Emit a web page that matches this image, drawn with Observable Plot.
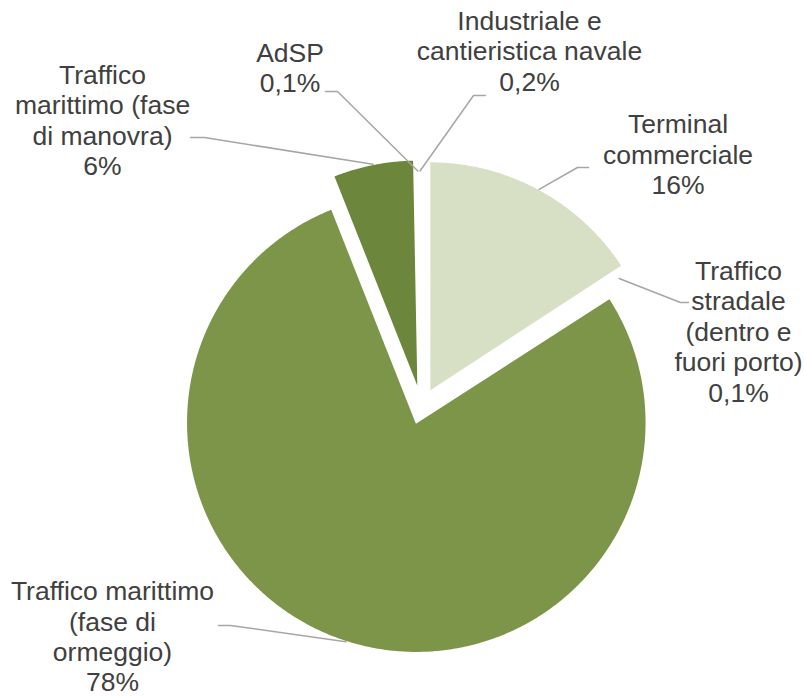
<!DOCTYPE html>
<html><head><meta charset="utf-8">
<script src="https://cdn.jsdelivr.net/npm/d3@7"></script>
<script src="https://cdn.jsdelivr.net/npm/@observablehq/plot@0.6"></script>
<style>html,body{margin:0;padding:0;background:#fff;} #chart svg{display:block;}</style>
</head><body><div id="chart"></div>
<script>
// ---- data ----
const categories = [
  "Terminal commerciale",
  "Traffico stradale (dentro e fuori porto)",
  "Traffico marittimo (fase di ormeggio)",
  "Traffico marittimo (fase di manovra)",
  "AdSP",
  "Industriale e cantieristica navale"
];
const values = [15.8, 0.1, 78.1, 5.7, 0.1, 0.2];
const percentLabels = ["16%", "0,1%", "78%", "6%", "0,1%", "0,2%"];
const colors = ["#D7E0C4", "#A9BE7E", "#7D9548", "#6C873B", "#B9CA95", "#C5D3A8"];

// ---- layout ----
const W = 804, H = 697;
const pie = {cx: 421, cy: 406, r: 230, explode: 17};
const labelLayout = [
  {lines: ["Terminal", "commerciale"], x: 677.5, y: 153.5, leader: [[588, 167], [577, 167]], rf: 1},
  {lines: ["Traffico", "stradale", "(dentro e", "fuori porto)"], x: 738, y: 330.5, leader: [[688, 302], [680, 302]], rf: 0.95},
  {lines: ["Traffico marittimo", "(fase di", "ormeggio)"], x: 112, y: 635.5, leader: [[218, 625], [230, 625]], rf: 1},
  {lines: ["Traffico", "marittimo (fase", "di manovra)"], x: 102, y: 119.3, leader: [[190, 137], [204, 137]], rf: 1},
  {lines: ["AdSP"], x: 289.5, y: 66.5, leader: [[325, 91], [337, 91]], rf: 0.95},
  {lines: ["Industriale e", "cantieristica navale"], x: 529, y: 50, leader: [[485, 95], [473, 95]], rf: 0.95}
];

// ---- geometry ----
const arcs = d3.pie().sort(null).value(d => d)(values);
const slicePts = [], leaderPts = [], labels = [];
arcs.forEach((a, i) => {
  const mid = (a.startAngle + a.endAngle) / 2;
  const ox = pie.cx + pie.explode * Math.sin(mid);
  const oy = pie.cy - pie.explode * Math.cos(mid);
  const tiny = values[i] < 1;
  slicePts.push({k: i, x: ox, y: oy, fill: colors[i], tiny});
  const n = Math.max(2, Math.ceil((a.endAngle - a.startAngle) / (Math.PI / 360)));
  for (let j = 0; j <= n; j++) {
    const t = a.startAngle + (a.endAngle - a.startAngle) * j / n;
    slicePts.push({k: i, x: ox + pie.r * Math.sin(t), y: oy - pie.r * Math.cos(t), fill: colors[i], tiny});
  }
  slicePts.push({k: i, x: ox, y: oy, fill: colors[i], tiny});
  const L = labelLayout[i];
  leaderPts.push({k: i, x: L.leader[0][0], y: L.leader[0][1]});
  leaderPts.push({k: i, x: L.leader[1][0], y: L.leader[1][1]});
  const rr = pie.r * L.rf;
  leaderPts.push({k: i, x: ox + rr * Math.sin(mid), y: oy - rr * Math.cos(mid)});
  labels.push({x: L.x, y: L.y, text: L.lines.concat([percentLabels[i]]).join("\n"), name: categories[i]});
});

const chart = Plot.plot({
  width: W, height: H, margin: 0,
  x: {domain: [0, W], axis: null},
  y: {domain: [H, 0], axis: null},
  style: {background: "white"},
  marks: [
    Plot.line(slicePts.filter(d => d.tiny), {x: "x", y: "y", z: "k", fill: "fill", stroke: "white", strokeWidth: 4.5, curve: "linear"}),
    Plot.line(slicePts.filter(d => !d.tiny), {x: "x", y: "y", z: "k", fill: "fill", stroke: "white", strokeWidth: 1.5, curve: "linear"}),
    Plot.line(leaderPts, {x: "x", y: "y", z: "k", stroke: "#A6A6A6", strokeWidth: 1.5, curve: "linear"}),
    Plot.text(labels, {x: "x", y: "y", text: "text", fontSize: 26.5, lineHeight: 1.15, fill: "#404040",
      fontFamily: "'Liberation Sans', Arial, sans-serif", textAnchor: "middle"})
  ]
});
document.getElementById("chart").appendChild(chart);
</script>
</body></html>
